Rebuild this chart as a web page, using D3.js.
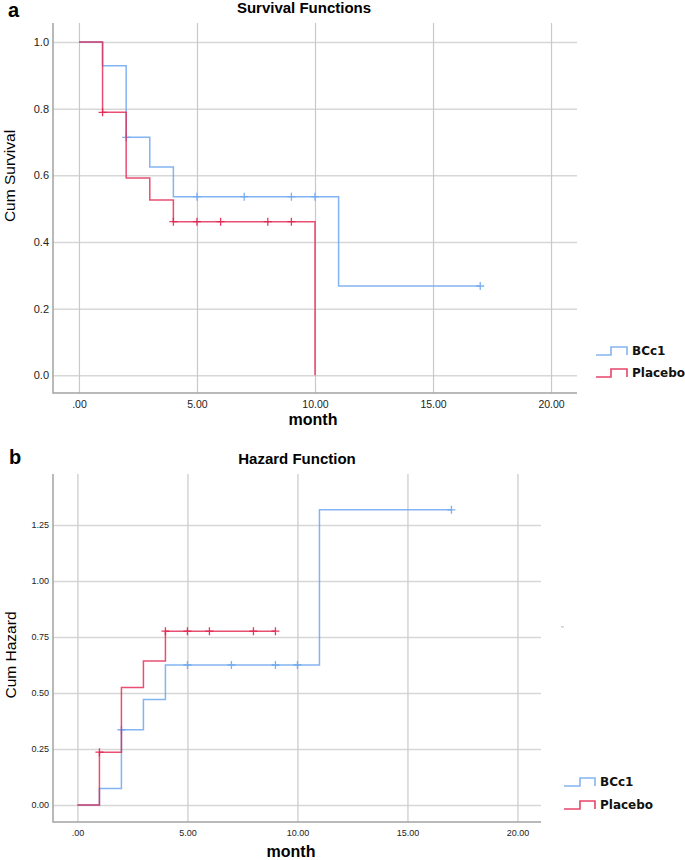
<!DOCTYPE html>
<html>
<head>
<meta charset="utf-8">
<script src="https://cdn.jsdelivr.net/npm/d3@7"></script>
<style>
    body { margin: 0; background: #fff; }
    svg { display: block; font-family: "Liberation Sans", Arial, sans-serif; }
    .grid-y line { stroke: #d7d7d7; stroke-width: 1.5; }
    .grid-x line { stroke: #c9c9c9; stroke-width: 1.2; }
    .grid-x path, .grid-y path, .labels path { display: none; }
    .frame { stroke: #a3a3a3; stroke-width: 1.5; fill: none; }
    .labels text { fill: #222; }
    .legend-text { font-family: "DejaVu Sans", Verdana, sans-serif; font-weight: bold; font-size: 12px; fill: #111; }
</style>
</head>
<body>
<svg id="chart" width="685" height="860"></svg>
<script>
const SERIES = ["BCc1", "Placebo"];
const COLORS = ["#6ea7ee", "#e2234f"];
const X_TICKS = [0, 5, 10, 15, 20];
const SURV_TICKS = [0, 0.2, 0.4, 0.6, 0.8, 1.0];
const HAZ_TICKS = [0, 0.25, 0.5, 0.75, 1.0, 1.25];

// Survival (step values hold from each time until the next)
const survBCc1Time = [0, 1, 2, 3, 4, 11, 17];
const survBCc1 = [1.0, 0.929, 0.714, 0.625, 0.536, 0.268, 0.268];
const survBCc1Censor = [2, 5, 7, 9, 10, 17];
const survPlaceboTime = [0, 1, 2, 3, 4, 10];
const survPlacebo = [1.0, 0.789, 0.592, 0.526, 0.461, 0];
const survPlaceboCensor = [1, 4, 5, 6, 8, 9];

// Cumulative hazard
const hazBCc1Time = [0, 1, 2, 3, 4, 11, 17];
const hazBCc1 = [0, 0.074, 0.336, 0.471, 0.625, 1.318, 1.318];
const hazBCc1Censor = [2, 5, 7, 9, 10, 17];
const hazPlaceboTime = [0, 1, 2, 3, 4, 9];
const hazPlacebo = [0, 0.236, 0.525, 0.643, 0.776, 0.776];
const hazPlaceboCensor = [1, 4, 5, 6, 8, 9];

const xFormat = d => d === 0 ? ".00" : d3.format(".2f")(d);

class StepPanel {
    constructor(svg, opts) {
        this.svg = svg;
        this.o = opts;
    }

    valueAt(times, values, t) {
        let v = values[0];
        times.forEach((tt, i) => { if (tt <= t) v = values[i]; });
        return v;
    }

    draw() {
        const o = this.o;
        const g = this.svg.append("g");
        const x = d3.scaleLinear().domain(o.xDomain).range([o.left, o.right]);
        const y = d3.scaleLinear().domain(o.yDomain).range([o.bottom, o.top]);

        // grid
        g.append("g").attr("class", "grid-y")
            .attr("transform", `translate(${o.left},0)`)
            .call(d3.axisLeft(y).tickValues(o.yTicks).tickSize(-(o.right - o.left)).tickFormat(""));
        g.append("g").attr("class", "grid-x")
            .attr("transform", `translate(0,${o.bottom})`)
            .call(d3.axisBottom(x).tickValues(X_TICKS).tickSize(-(o.bottom - o.top)).tickFormat(""));

        // axis lines
        g.append("path").attr("class", "frame")
            .attr("d", `M${o.left},${o.top}V${o.bottom}H${o.right}`);

        // tick labels
        g.append("g").attr("class", "labels")
            .attr("transform", `translate(${o.left},0)`)
            .style("font-size", o.yTickFont + "px")
            .call(d3.axisLeft(y).tickValues(o.yTicks).tickSize(0).tickPadding(4).tickFormat(o.yFormat));
        g.append("g").attr("class", "labels")
            .attr("transform", `translate(0,${o.bottom})`)
            .style("font-size", o.xTickFont + "px")
            .call(d3.axisBottom(x).tickValues(X_TICKS).tickSize(0).tickPadding(o.xPad).tickFormat(xFormat));

        // step lines + censor marks
        const line = d3.line().curve(d3.curveStepAfter).x(d => x(d[0])).y(d => y(d[1]));
        o.series.forEach((s, i) => {
            const pts = d3.zip(s.time, s.values);
            g.append("path")
                .attr("d", line(pts))
                .attr("fill", "none")
                .attr("stroke", COLORS[i])
                .attr("stroke-width", 1.5)
                .attr("stroke-opacity", i === 0 ? 0.85 : 0.8);
            g.append("g").selectAll("path")
                .data(s.censor)
                .join("path")
                .attr("d", t => {
                    const cx = x(t), cy = y(this.valueAt(s.time, s.values, t));
                    return `M${cx - 4},${cy}H${cx + 4}M${cx},${cy - 4}V${cy + 4}`;
                })
                .attr("stroke", COLORS[i])
                .attr("stroke-width", 1.3)
                .attr("stroke-opacity", 0.9);
        });

        // texts
        g.append("text").attr("x", o.letterX).attr("y", o.letterY)
            .style("font-size", "20px").style("font-weight", "bold").text(o.letter);
        g.append("text").attr("x", o.titleX).attr("y", o.titleY)
            .attr("text-anchor", "middle")
            .style("font-size", "15px").style("font-weight", "bold").text(o.title);
        g.append("text")
            .attr("transform", `translate(${o.yTitleX},${o.yTitleY}) rotate(-90)`)
            .attr("text-anchor", "middle")
            .style("font-size", "15.5px").text(o.yTitle);
        g.append("text").attr("x", o.monthX).attr("y", o.monthY)
            .attr("text-anchor", "middle")
            .style("font-size", "16px").style("font-weight", "bold").text("month");

        // legend
        const lg = g.append("g");
        SERIES.forEach((name, i) => {
            const lw = o.legend.lows[i], hi = lw - 8;
            const [x0, xm, x1] = o.legend.xs;
            lg.append("path")
                .attr("d", `M${x0},${lw}H${xm}V${hi}H${x1}V${lw}`)
                .attr("fill", "none").attr("stroke", COLORS[i])
                .attr("stroke-width", 1.6).attr("stroke-opacity", 0.85);
            lg.append("text").attr("class", "legend-text")
                .attr("x", x1 + 5).attr("y", lw).text(name);
        });
    }
}

const svg = d3.select("#chart");

new StepPanel(svg, {
    left: 53, right: 577, top: 23, bottom: 393,
    xDomain: [-1.1, 21.1], yDomain: [-0.053, 1.057],
    yTicks: SURV_TICKS, yFormat: d3.format(".1f"),
    yTickFont: 11, xTickFont: 10.5, xPad: 7.5,
    series: [
        { time: survBCc1Time, values: survBCc1, censor: survBCc1Censor },
        { time: survPlaceboTime, values: survPlacebo, censor: survPlaceboCensor }
    ],
    letter: "a", letterX: 8, letterY: 17,
    title: "Survival Functions", titleX: 304, titleY: 13,
    yTitle: "Cum Survival", yTitleX: 15, yTitleY: 176,
    monthX: 313, monthY: 425,
    legend: { xs: [596, 611, 627], lows: [355, 377] }
}).draw();

new StepPanel(svg, {
    left: 53, right: 541, top: 474, bottom: 822,
    xDomain: [-1.11, 21.07], yDomain: [-0.076, 1.478],
    yTicks: HAZ_TICKS, yFormat: d3.format(".2f"),
    yTickFont: 9, xTickFont: 9, xPad: 7.5,
    series: [
        { time: hazBCc1Time, values: hazBCc1, censor: hazBCc1Censor },
        { time: hazPlaceboTime, values: hazPlacebo, censor: hazPlaceboCensor }
    ],
    letter: "b", letterX: 9, letterY: 464,
    title: "Hazard Function", titleX: 297, titleY: 464,
    yTitle: "Cum Hazard", yTitleX: 16, yTitleY: 655,
    monthX: 291, monthY: 857,
    legend: { xs: [564, 580, 595], lows: [786, 809] }
}).draw();

// faint speck to the right of the hazard plot
svg.append("rect").attr("x", 561).attr("y", 626).attr("width", 3).attr("height", 1.5).attr("fill", "#d0d0d0");
</script>
</body>
</html>
